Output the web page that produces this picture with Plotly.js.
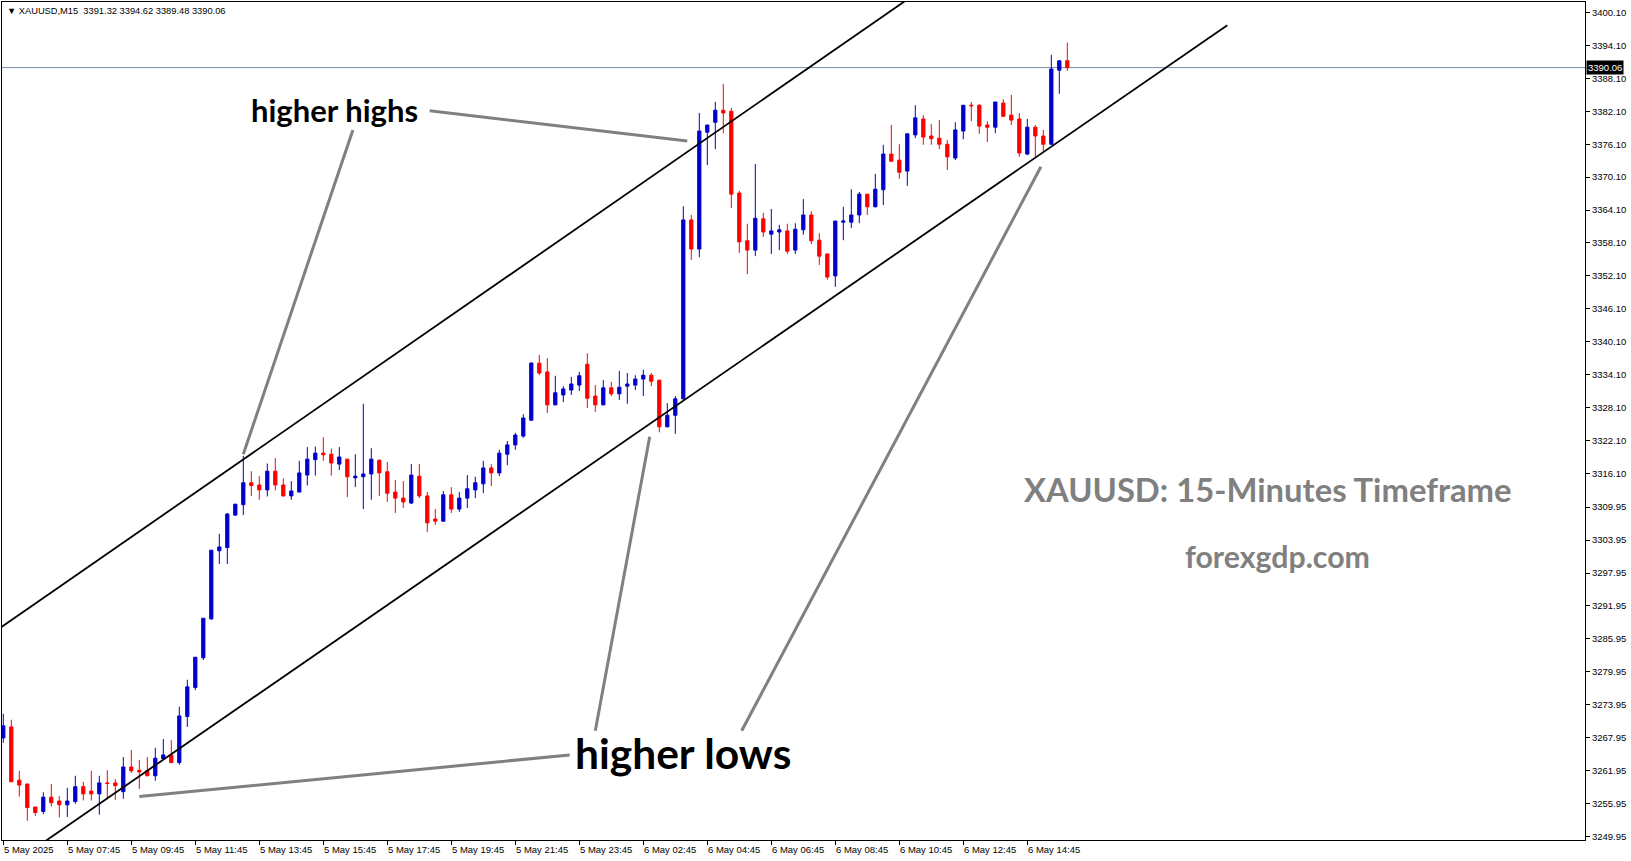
<!DOCTYPE html>
<html>
<head>
<meta charset="utf-8">
<script src="https://cdn.plot.ly/plotly-3.0.1.min.js"></script>
<style>html,body{margin:0;padding:0;background:#fff;overflow:hidden}#chart{width:1631px;height:861px}</style>
</head>
<body>
<div id="chart"></div>
<script>
// ---- Data (XAUUSD M15) ----
const symbol = 'XAUUSD,M15';
const openP = [3267.9,3269.9,3260.2,3259.5,3255.3,3254.5,3257.1,3256.4,3255.7,3256.3,
3259.0,3258.2,3257.7,3259.7,3259.7,3258.1,3262.6,3262.0,3261.9,3261.0,
3264.1,3264.8,3263.4,3271.8,3277.1,3282.5,3289.6,3302.0,3302.6,3308.5,
3310.4,3314.4,3314.0,3313.1,3316.5,3314.0,3312.0,3312.7,3315.8,3318.6,
3319.8,3319.6,3317.8,3318.7,3315.3,3315.5,3316.0,3318.5,3316.4,3312.7,
3311.6,3310.7,3315.6,3312.0,3307.8,3307.4,3312.2,3309.6,3311.6,3313.1,
3314.2,3317.1,3316.2,3319.6,3321.3,3322.9,3325.8,3336.2,3334.6,3328.6,
3330.4,3331.3,3332.2,3336.0,3330.2,3328.6,3331.7,3330.6,3332.0,3332.2,
3333.3,3334.0,3333.1,3324.6,3326.7,3329.7,3362.3,3357.0,3378.3,3380.1,
3382.3,3382.1,3367.2,3358.5,3356.8,3362.5,3359.7,3360.1,3360.3,3356.8,
3360.5,3363.2,3358.6,3356.1,3352.1,3361.9,3361.9,3363.2,3367.0,3364.7,
3367.8,3374.3,3373.2,3371.2,3377.8,3380.7,3377.6,3377.2,3376.1,3373.6,
3378.5,3383.2,3383.2,3379.6,3379.2,3383.6,3381.4,3380.7,3374.3,3379.2,
3377.6,3376.1,3389.6,3391.32];
const highP = [3272.3,3271.2,3261.9,3259.5,3255.3,3258.0,3259.5,3257.3,3258.8,3261.0,
3259.9,3261.9,3261.0,3262.0,3260.4,3264.4,3265.7,3263.9,3264.4,3266.1,
3267.7,3267.5,3273.6,3278.5,3282.6,3289.7,3302.1,3305.1,3308.9,3310.5,
3319.3,3316.5,3315.6,3317.9,3318.9,3315.2,3314.7,3318.4,3320.9,3321.0,
3322.7,3320.6,3320.9,3318.8,3319.6,3328.8,3320.7,3318.7,3318.2,3314.9,
3314.7,3317.8,3317.8,3312.7,3309.6,3312.9,3313.6,3312.7,3315.8,3315.5,
3318.4,3317.8,3320.4,3322.0,3323.5,3326.9,3336.4,3337.7,3337.1,3333.9,
3332.0,3333.7,3334.6,3338.0,3332.2,3333.1,3332.8,3334.8,3334.4,3334.0,
3335.0,3334.4,3333.1,3328.9,3330.2,3364.8,3363.2,3381.8,3379.6,3383.8,
3387.1,3382.7,3367.6,3361.6,3372.5,3363.6,3364.3,3361.4,3361.6,3361.7,
3366.1,3363.9,3359.9,3356.1,3362.1,3364.7,3367.9,3367.4,3367.0,3370.7,
3376.0,3379.6,3376.1,3378.0,3383.2,3381.4,3379.8,3380.5,3376.9,3380.1,
3383.2,3383.8,3383.4,3380.3,3383.8,3384.3,3385.1,3381.8,3380.7,3379.6,
3378.7,3392.4,3391.4,3394.62];
const lowP = [3267.0,3259.9,3257.2,3252.8,3253.7,3254.0,3255.4,3253.4,3253.5,3255.9,
3256.5,3256.5,3253.9,3256.7,3256.6,3256.8,3261.5,3258.6,3260.9,3260.1,
3264.1,3263.4,3263.0,3269.9,3276.6,3282.1,3289.4,3299.6,3299.6,3308.4,
3308.5,3312.0,3311.3,3311.9,3313.0,3311.9,3311.3,3312.7,3313.9,3315.7,
3318.4,3315.7,3316.7,3311.8,3313.6,3309.6,3311.3,3312.0,3310.9,3308.9,
3309.8,3310.5,3311.6,3305.4,3306.7,3307.3,3308.9,3309.1,3309.8,3311.6,
3312.5,3313.8,3315.6,3317.6,3320.4,3322.6,3325.7,3334.0,3327.1,3328.5,
3329.1,3330.4,3331.1,3328.0,3327.3,3328.5,3330.2,3329.5,3328.8,3331.3,
3330.2,3332.0,3323.6,3324.5,3323.3,3329.5,3355.0,3355.5,3372.3,3375.2,
3378.1,3364.5,3356.3,3352.4,3355.7,3359.2,3356.1,3356.8,3356.1,3356.1,
3359.6,3357.9,3354.1,3351.4,3350.1,3358.6,3360.8,3361.7,3363.2,3364.6,
3365.0,3372.9,3369.8,3368.5,3377.2,3376.0,3376.0,3375.2,3371.4,3373.2,
3377.0,3380.3,3378.0,3376.5,3378.1,3381.1,3379.6,3373.8,3374.1,3373.8,
3374.7,3376.0,3385.3,3389.48];
const closeP = [3270.1,3259.9,3259.3,3255.2,3254.3,3257.1,3256.1,3255.7,3256.4,3259.0,
3257.7,3257.7,3259.7,3259.6,3259.2,3262.6,3261.9,3261.7,3261.0,3264.2,
3264.8,3263.4,3271.9,3277.2,3282.6,3289.7,3302.1,3302.7,3308.7,3310.5,
3314.4,3313.9,3313.1,3316.5,3314.0,3312.0,3312.9,3316.2,3318.7,3319.8,
3319.5,3318.0,3319.1,3315.5,3315.6,3316.0,3318.7,3316.2,3312.5,3311.6,
3310.9,3315.8,3312.0,3307.1,3307.4,3312.2,3309.6,3311.6,3313.3,3314.4,
3317.1,3316.2,3319.8,3321.3,3323.1,3326.2,3336.2,3334.4,3328.6,3330.8,
3331.5,3332.4,3333.9,3329.8,3328.6,3331.7,3330.6,3331.8,3332.4,3333.3,
3334.0,3332.9,3324.6,3326.7,3329.7,3362.3,3357.0,3378.5,3379.6,3382.3,
3381.8,3367.0,3358.3,3356.8,3362.6,3360.1,3360.3,3360.5,3356.6,3360.6,
3363.2,3358.5,3355.7,3351.9,3362.1,3362.1,3363.2,3367.0,3364.7,3367.9,
3374.3,3373.0,3371.0,3378.0,3380.9,3377.4,3377.1,3376.1,3373.8,3378.7,
3383.2,3383.1,3379.4,3379.2,3383.8,3381.2,3380.5,3374.5,3379.2,3377.6,
3376.1,3389.8,3391.3,3390.06];
// time-axis labels, one every 8 bars (2 hours)
const timeLabels = ['5 May 2025','5 May 07:45','5 May 09:45','5 May 11:45','5 May 13:45',
'5 May 15:45','5 May 17:45','5 May 19:45','5 May 21:45','5 May 23:45','6 May 02:45',
'6 May 04:45','6 May 06:45','6 May 08:45','6 May 10:45','6 May 12:45','6 May 14:45'];
const barsPerLabel = 8;
// price-axis labels
const priceLabels = ['3400.10','3394.10','3388.10','3382.10','3376.10','3370.10','3364.10',
'3358.10','3352.10','3346.10','3340.10','3334.10','3328.10','3322.10','3316.10','3309.95',
'3303.95','3297.95','3291.95','3285.95','3279.95','3273.95','3267.95','3261.95','3255.95','3249.95'];
// channel trend lines: [bar, price] anchors
const upperChannel = [[-5, 3283.3], [125, 3414.6]];
const lowerChannel = [[0, 3243.8], [153, 3397.8]];
// pointer lines drawn on the chart: [bar0, price0, bar1, price1]
const pointers = [
  [53.3, 3382.2, 85.5, 3376.7],
  [43.7, 3378.7, 30.0, 3319.6],
  [70.8, 3264.8, 17.0, 3257.2],
  [74.0, 3269.2, 80.8, 3322.8],
  [92.3, 3269.2, 129.7, 3372.0]
];
const labelsOnChart = [
  {text: 'higher highs', bar: 41.4, price: 3382.3, size: 31, color: '#000000'},
  {text: 'higher lows', bar: 85.0, price: 3265.3, size: 42.5, color: '#000000'},
  {text: 'XAUUSD: 15-Minutes Timeframe', bar: 158.1, price: 3313.1, size: 32.8, color: '#808080'},
  {text: 'forexgdp.com', bar: 159.3, price: 3301.1, size: 30.3, color: '#808080'}
];

// ---- Build chart ----
const bars = openP.map((_, i) => i);
const last = openP.length - 1;
const lastClose = closeP[last];
const BLUE = '#0000CD', RED = '#FF0000';

const traces = [{
  type: 'candlestick', x: bars, open: openP, high: highP, low: lowP, close: closeP,
  increasing: {line: {color: BLUE, width: 1}, fillcolor: BLUE},
  decreasing: {line: {color: RED, width: 1}, fillcolor: RED},
  whiskerwidth: 0, hoverinfo: 'skip', showlegend: false
}];
[upperChannel, lowerChannel].forEach(ln => traces.push({
  type: 'scatter', mode: 'lines', x: ln.map(p => p[0]), y: ln.map(p => p[1]),
  line: {color: '#000000', width: 1.8}, hoverinfo: 'skip', showlegend: false
}));

const shapes = [{
  type: 'line', xref: 'paper', x0: 0, x1: 1, yref: 'y', y0: lastClose, y1: lastClose,
  line: {color: '#778899', width: 1}, layer: 'below'
}];
pointers.forEach(p => shapes.push({
  type: 'line', xref: 'x', yref: 'y', x0: p[0], y0: p[1], x1: p[2], y1: p[3],
  line: {color: '#808080', width: 3}
}));

const AXFONT = {family: '"Liberation Sans", Arial, sans-serif', size: 9.5, color: '#000000'};
const annotations = [];
timeLabels.forEach((t, k) => annotations.push({
  x: k * barsPerLabel, xref: 'x', y: 0, yref: 'paper', xanchor: 'left', yanchor: 'top',
  text: t, showarrow: false, font: AXFONT, xshift: 0, yshift: -3, borderpad: 0
}));
labelsOnChart.forEach(l => annotations.push({
  x: l.bar, y: l.price, xref: 'x', yref: 'y', text: l.text, showarrow: false,
  font: {family: 'Lato, "Open Sans", sans-serif', size: l.size, color: l.color, weight: 'bold'}
}));
annotations.push({
  x: 1, xref: 'paper', y: lastClose, yref: 'y', xanchor: 'left', yanchor: 'middle',
  text: lastClose.toFixed(2), showarrow: false, bgcolor: '#000000', borderpad: 1, xshift: 1,
  font: {family: '"Liberation Sans", Arial, sans-serif', size: 9.5, color: '#FFFFFF'}
});
annotations.push({
  x: 0, xref: 'paper', y: 1, yref: 'paper', xanchor: 'left', yanchor: 'top', showarrow: false,
  xshift: 3, yshift: -2, font: {family: '"Liberation Sans", Arial, sans-serif', size: 9.3, color: '#000000'},
  text: '\u25BC ' + symbol + '\u00a0\u00a0' + [openP[last], highP[last], lowP[last], closeP[last]].map(v => v.toFixed(2)).join(' ')
});

const layout = {
  width: 1631, height: 861, margin: {l: 2, r: 46, t: 2, b: 21, pad: 0},
  paper_bgcolor: '#FFFFFF', plot_bgcolor: '#FFFFFF', boxgap: 0.42, showlegend: false,
  xaxis: {range: [-0.1625, 197.71], showgrid: false, zeroline: false, showline: true, mirror: true,
    linecolor: '#000000', linewidth: 1, ticks: 'outside', ticklen: 4, tickcolor: '#000000',
    tickvals: timeLabels.map((_, k) => k * barsPerLabel), showticklabels: false,
    rangeslider: {visible: false}, fixedrange: true},
  yaxis: {side: 'right', range: [3249.29, 3402.02], showgrid: false, zeroline: false, showline: true,
    mirror: true, linecolor: '#000000', linewidth: 1, ticks: 'outside', ticklen: 4, tickcolor: '#000000',
    tickvals: priceLabels.map(Number), ticktext: priceLabels, tickfont: AXFONT, fixedrange: true},
  shapes: shapes, annotations: annotations
};
Plotly.newPlot('chart', traces, layout, {staticPlot: true, displayModeBar: false});
</script>
</body>
</html>
